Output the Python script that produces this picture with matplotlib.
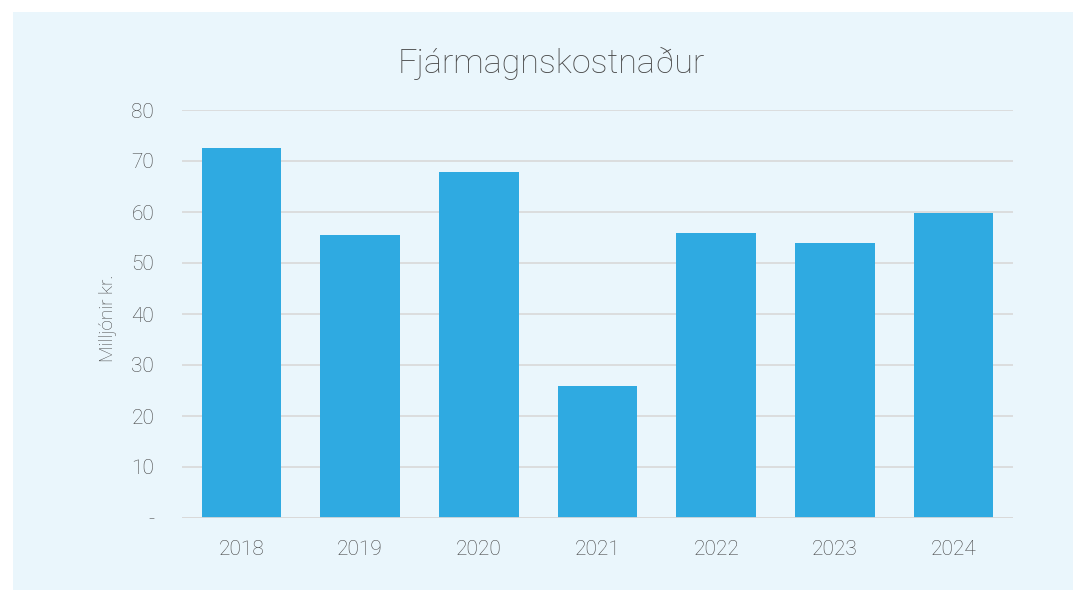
import matplotlib
matplotlib.use("Agg")
from matplotlib import pyplot as plt
from matplotlib.patches import Rectangle

years = ["2018", "2019", "2020", "2021", "2022", "2023", "2024"]
costs = [72.5, 55.5, 67.8, 25.9, 55.9, 53.9, 59.8]
yticks = [0, 10, 20, 30, 40, 50, 60, 70, 80]
ytick_labels = ["-", "10", "20", "30", "40", "50", "60", "70", "80"]

plt.rcParams['font.family'] = ['Roboto', 'DejaVu Sans']
plt.rcParams['font.weight'] = 'light'

W, H = 1073, 590
fig = plt.figure(figsize=(W / 100, H / 100), dpi=100)
fig.patch.set_facecolor('white')
fig.patches.append(Rectangle((13 / W, 0), 1 - 13 / W, (H - 12) / H,
                             transform=fig.transFigure, facecolor='#EAF6FC',
                             edgecolor='none', zorder=-10))

ax = fig.add_axes([182 / W, (H - 518) / H, (1013 - 182) / W, (518 - 110) / H])
ax.set_facecolor('none')

ax.bar(range(len(years)), costs, width=0.67, color='#2FAAE1', zorder=3)

ax.set_xlim(-0.5, len(years) - 0.5)
ax.set_ylim(0, 80)
ax.set_yticks(yticks)
ax.set_yticklabels(ytick_labels)
ax.set_xticks(range(len(years)))
ax.set_xticklabels(years)
ax.grid(axis='y', color='#D9D9D9', linewidth=1.2, zorder=0)
ax.axhline(0, color='#D9D9D9', linewidth=2, zorder=4)

for s in ax.spines.values():
    s.set_visible(False)
ax.tick_params(length=0, labelsize=15, colors='#444444')
ax.tick_params(axis='y', pad=20)
ax.tick_params(axis='x', pad=16)

ax.set_ylabel("Milljónir kr.", fontsize=13.7, color='#444444',
              fontweight='light', va='center')
ax.yaxis.set_label_coords(-0.089, 0.49)
fig.text(551 / W, 1 - 63 / H, "Fjármagnskostnaður", fontsize=24.5,
         color='#4a4a4a', ha='center', va='center')

fig.savefig("out.png", dpi=100)
